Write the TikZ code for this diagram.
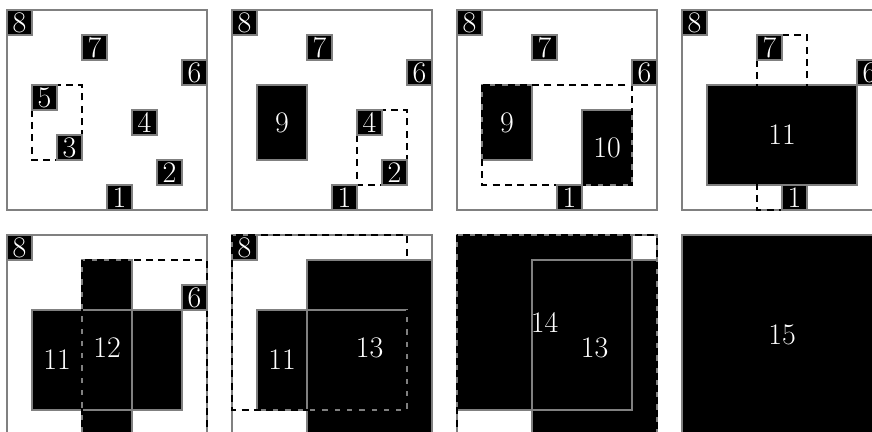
\documentclass[tikz,border=0pt]{standalone}
\usepackage{fontspec}
\newcommand\digitfont{\fontsize{17}{20}\selectfont}
\tikzset{
  panel/.style={draw=gray, line width=1.1pt, fill=white},
  bigfill/.style={fill=black},
  bigborder/.style={draw=gray, line width=0.85pt},
  group/.style={draw=black, line width=0.6pt, dash pattern=on 4pt off 3pt},
  leaf/.style={fill=black, draw=gray, line width=0.85pt, text=white,
    minimum size=0.5cm, inner sep=0pt, font=\digitfont},
  lbl/.style={text=white, inner sep=0pt, font=\digitfont},
}
\newcommand\leafbox[4]{\node[leaf] (#1) at (#2+0.5,#3+0.5) {#4};}
\begin{document}
\begin{tikzpicture}[x=0.5cm,y=-0.5cm]
\useasboundingbox (-0.28,-0.4) rectangle (34.6,16.88);
\clip (-0.28,-0.4) rectangle (34.6,16.88);
% ---------- panel 1 ----------
\begin{scope}[shift={(0,0)}]
  \draw[panel] (0,0) rectangle (8,8);
  \draw[group] (1,3) rectangle (3,6);
  \leafbox{a8}{0}{0}{8}
  \leafbox{a7}{3}{1}{7}
  \leafbox{a6}{7}{2}{6}
  \leafbox{a5}{1}{3}{5}
  \leafbox{a4}{5}{4}{4}
  \leafbox{a3}{2}{5}{3}
  \leafbox{a2}{6}{6}{2}
  \leafbox{a1}{4}{7}{1}
\end{scope}
% ---------- panel 2 ----------
\begin{scope}[shift={(9,0)}]
  \draw[panel] (0,0) rectangle (8,8);
  \fill[bigfill] (1,3) rectangle (3,6);
  \draw[bigborder] (1,3) rectangle (3,6);
  \node[lbl] (b9) at (2,4.5) {9};
  \draw[group] (5,4) rectangle (7,7);
  \leafbox{b8}{0}{0}{8}
  \leafbox{b7}{3}{1}{7}
  \leafbox{b6}{7}{2}{6}
  \leafbox{b4}{5}{4}{4}
  \leafbox{b2}{6}{6}{2}
  \leafbox{b1}{4}{7}{1}
\end{scope}
% ---------- panel 3 ----------
\begin{scope}[shift={(18,0)}]
  \draw[panel] (0,0) rectangle (8,8);
  \fill[bigfill] (1,3) rectangle (3,6);
  \fill[bigfill] (5,4) rectangle (7,7);
  \draw[bigborder] (1,3) rectangle (3,6);
  \draw[bigborder] (5,4) rectangle (7,7);
  \node[lbl] (c9) at (2,4.5) {9};
  \node[lbl] (c10) at (6,5.5) {10};
  \draw[group] (1,3) rectangle (7,7);
  \leafbox{c8}{0}{0}{8}
  \leafbox{c7}{3}{1}{7}
  \leafbox{c6}{7}{2}{6}
  \leafbox{c1}{4}{7}{1}
\end{scope}
% ---------- panel 4 ----------
\begin{scope}[shift={(27,0)}]
  \draw[panel] (0,0) rectangle (8,8);
  \fill[bigfill] (1,3) rectangle (7,7);
  \draw[bigborder] (1,3) rectangle (7,7);
  \node[lbl] (d11) at (4,5) {11};
  \draw[group] (3,1) rectangle (5,8);
  \leafbox{d8}{0}{0}{8}
  \leafbox{d7}{3}{1}{7}
  \leafbox{d6}{7}{2}{6}
  \leafbox{d1}{4}{7}{1}
\end{scope}
% ---------- panel 5 ----------
\begin{scope}[shift={(0,9)}]
  \draw[panel] (0,0) rectangle (8,8);
  \fill[bigfill] (1,3) rectangle (7,7);
  \fill[bigfill] (3,1) rectangle (5,8);
  \draw[bigborder] (1,3) rectangle (7,7);
  \draw[bigborder] (3,1) rectangle (5,8);
  \node[lbl] (e11) at (2,5) {11};
  \node[lbl] (e12) at (4,4.5) {12};
  \draw[group] (3,1) rectangle (8,8);
  \leafbox{e8}{0}{0}{8}
  \leafbox{e6}{7}{2}{6}
\end{scope}
% ---------- panel 6 ----------
\begin{scope}[shift={(9,9)}]
  \draw[panel] (0,0) rectangle (8,8);
  \fill[bigfill] (3,1) rectangle (8,8);
  \fill[bigfill] (1,3) rectangle (7,7);
  \draw[bigborder] (3,1) rectangle (8,8);
  \draw[bigborder] (1,3) rectangle (7,7);
  \node[lbl] (f11) at (2,5) {11};
  \node[lbl] (f13) at (5.5,4.5) {13};
  \leafbox{f8}{0}{0}{8}
  \draw[group] (0,0) rectangle (7,7);
\end{scope}
% ---------- panel 7 ----------
\begin{scope}[shift={(18,9)}]
  \draw[panel] (0,0) rectangle (8,8);
  \fill[bigfill] (0,0) rectangle (7,7);
  \fill[bigfill] (3,1) rectangle (8,8);
  \draw[bigborder] (0,0) rectangle (7,7);
  \draw[bigborder] (3,1) rectangle (8,8);
  \node[lbl] (g14) at (3.5,3.5) {14};
  \node[lbl] (g13) at (5.5,4.5) {13};
  \draw[group] (0,0) rectangle (8,8);
\end{scope}
% ---------- panel 8 ----------
\begin{scope}[shift={(27,9)}]
  \draw[panel] (0,0) rectangle (8,8);
  \fill[bigfill] (0,0) rectangle (8,8);
  \draw[bigborder] (0,0) rectangle (8,8);
  \node[lbl] (h15) at (4,4) {15};
\end{scope}
\end{tikzpicture}
\end{document}
